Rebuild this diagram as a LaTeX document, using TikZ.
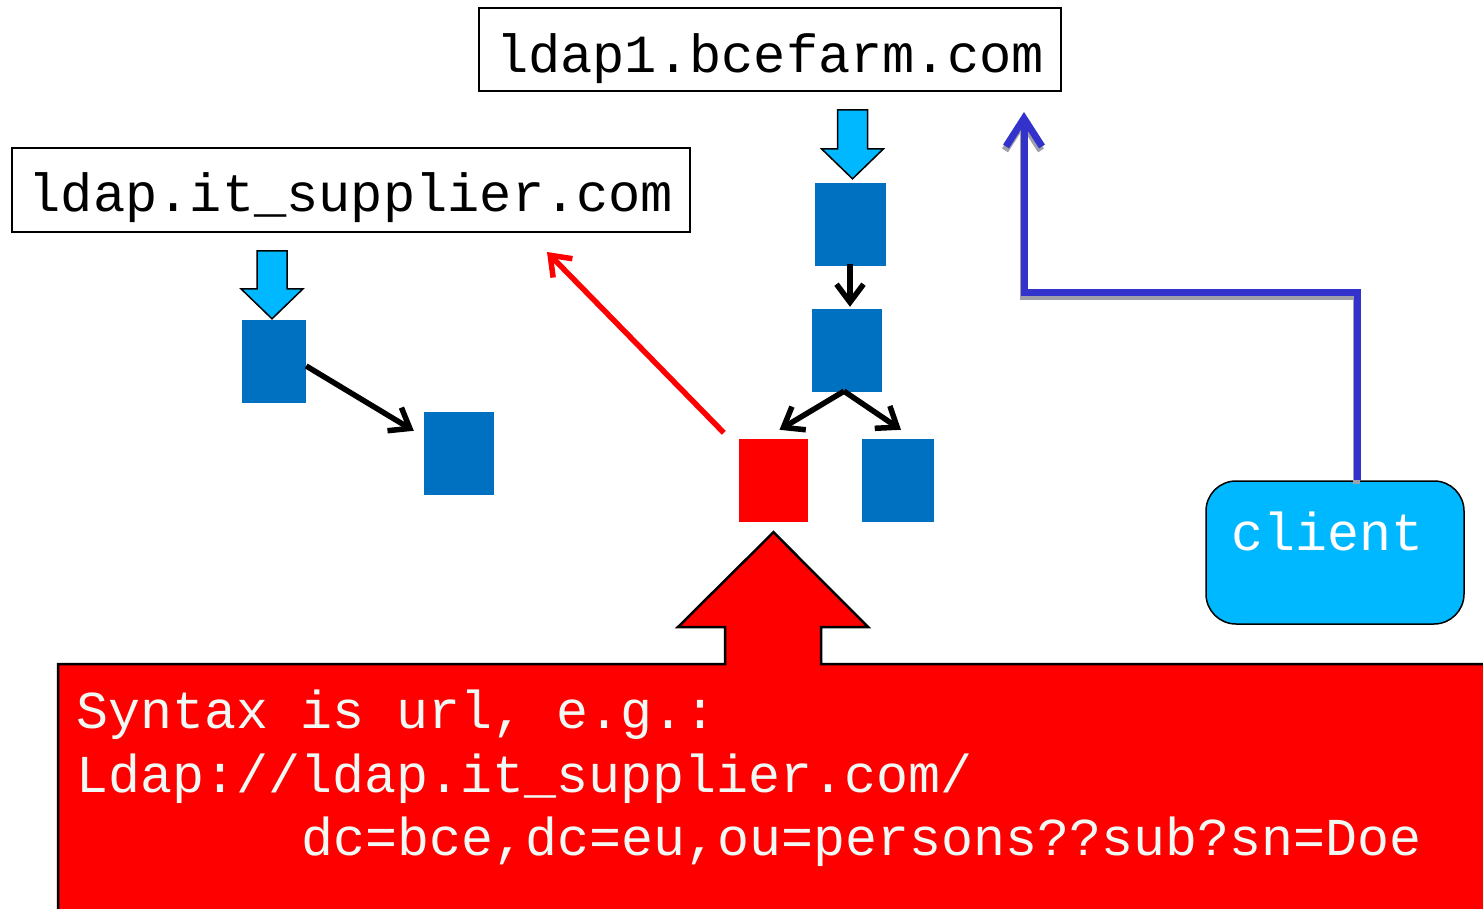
\documentclass[tikz,border=0pt]{standalone}
\usepackage{fontspec}
\setmonofont{Liberation Mono}
\usetikzlibrary{arrows.meta}
\definecolor{sqblue}{RGB}{0,112,192}
\definecolor{skyblue}{RGB}{0,184,255}
\definecolor{linkblue}{RGB}{51,51,204}
\definecolor{shadowgray}{RGB}{160,160,170}
\definecolor{calloutred}{RGB}{255,0,0}
\definecolor{paletext}{RGB}{242,248,244}
\begin{document}
\begin{tikzpicture}[x=1pt,y=-1pt,
  bigmono/.style={font=\ttfamily\fontsize{53.3}{64}\selectfont},
  hostmono/.style={font=\ttfamily\fontsize{53.7}{64}\selectfont},
  hostbox/.style={hostmono, draw=black, line width=1.5pt, fill=white, inner sep=0pt, text depth=0pt},
  sq/.style={fill=sqblue, inner sep=0pt, minimum height=83pt},
  redsq/.style={fill=calloutred, inner sep=0pt, minimum height=83pt},
  flow/.style={line width=5.5pt, -{Straight Barb[length=18pt,width=27pt]}},
  refer/.style={flow, draw=calloutred},
  link/.style={line width=7pt, draw=linkblue, -{Straight Barb[length=28pt,width=36pt]}},
  linkshadow/.style={line width=7pt, draw=shadowgray, -{Straight Barb[length=28pt,width=36pt]},
    transform canvas={xshift=-1pt,yshift=-4pt}},
  blockarrow/.style={fill=skyblue, draw=black, line width=1.5pt, line join=miter},
  clientbox/.style={fill=skyblue, draw=black, line width=1.5pt, rounded corners=30pt, inner sep=0pt,
    minimum width=258pt, minimum height=143pt},
  calloutshape/.style={fill=calloutred, draw=black, line width=2.5pt, line join=miter},
  callouttext/.style={bigmono, text=paletext, inner sep=0pt, anchor=base west}
]
\useasboundingbox (0,0) rectangle (1483,909);
\clip (0,0) rectangle (1483,909);

% directory servers
\node[hostbox, minimum width=582pt, minimum height=83pt, text height=47pt] (farm) at (770,49.5) {ldap1.bcefarm.com};
\node[hostbox, minimum width=678pt, minimum height=84pt, text height=44pt] (supplier) at (351,190) {ldap.it\_supplier.com};

% directory trees
\node[sq, minimum width=64pt] (s1) at (274,361.5) {};
\node[sq, minimum width=70pt] (s2) at (459,453.5) {};
\node[sq, minimum width=71pt] (s3) at (850.5,224.5) {};
\node[sq, minimum width=70pt] (s4) at (847,350.5) {};
\node[redsq, minimum width=69pt] (ref) at (773.5,480.5) {};
\node[sq, minimum width=72pt] (s5) at (898,480.5) {};

% client
\node[clientbox] (client) at (1335,552.5) {};
\node[bigmono, text=white, inner sep=0pt, anchor=base] at ([xshift=-7.5pt,yshift=2.5pt]client.center) {client};

% free ends of the pointers
\coordinate (redtip) at (547,252);
\coordinate (bluetip) at (1024,112);

% entry arrows into the tree roots
\draw[blockarrow] (s1.north) ++(-2,-1) -- ++(-31,-30) -- ++(16,0) -- ++(0,-38) -- ++(30,0) -- ++(0,38) -- ++(16,0) -- cycle;
\draw[blockarrow] ([yshift=4pt]s3.north) ++(2,0) -- ++(-31,-30) -- ++(16,0) -- ++(0,-39) -- ++(30,0) -- ++(0,39) -- ++(16,0) -- cycle;

% tree edges
\draw[flow] ([yshift=-4.5pt]s1.east) -- ([xshift=-10pt,yshift=-19pt]s2.north west);
\draw[flow] ([xshift=-0.5pt,yshift=2pt]s3.south) -- ([xshift=3pt,yshift=2pt]s4.north);
\draw[flow] ([xshift=-3pt,yshift=1pt]s4.south) -- ([xshift=6pt,yshift=9pt]ref.north);
\draw[flow] ([xshift=-3pt,yshift=1pt]s4.south) -- ([xshift=3pt,yshift=9pt]s5.north);

% referral
\draw[refer] ([xshift=-15pt,yshift=6pt]ref.north west) -- (redtip);

% client query
\draw[linkshadow] ([xshift=22pt]client.north) -- ++(0,-188) -| (bluetip);
\draw[link] ([xshift=22pt]client.north) -- ++(0,-188) -| (bluetip);

% callout
\draw[calloutshape] (58,930) -- (58,664) -- (725,664) -- (725,627) -- (678,627)
  -- ([yshift=-10pt]ref.south) -- (868,627) -- (821,627) -- (821,664) -- (1500,664) -- (1500,930) -- cycle;
\node[callouttext] (l1) at (76.5,728) {Syntax is url, e.g.:};
\node[callouttext] (l2) at (76.5,792) {Ldap://ldap.it\_supplier.com/};
\node[callouttext] (l3) at (301.5,855.5) {dc=bce,dc=eu,ou=persons??sub?sn=Doe};
\end{tikzpicture}
\end{document}
